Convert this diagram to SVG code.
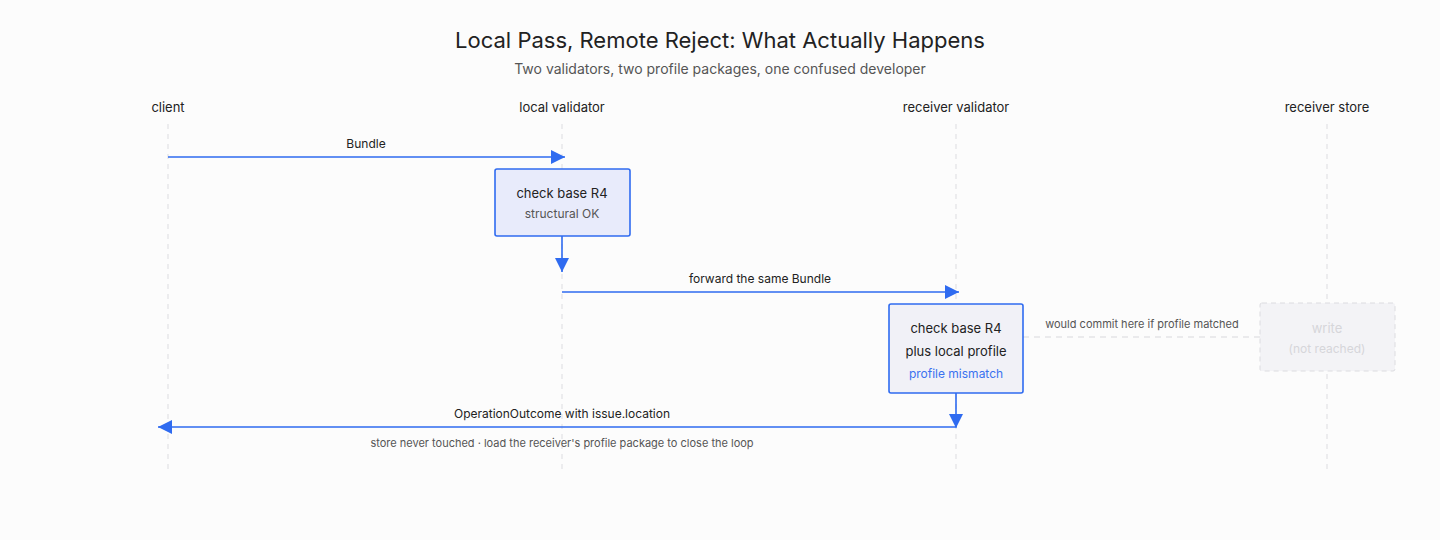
<svg xmlns="http://www.w3.org/2000/svg" width="1440" height="540" viewBox="0 0 1440 540">
<style>
text{font-family:Inter,"Liberation Sans",sans-serif;text-anchor:middle}
.h{font-size:13px;fill:#222}
.life{stroke:#dcdce0;stroke-width:1;stroke-dasharray:5 5}
.msg{stroke:#2f6bf0;stroke-width:1.6;fill:none}
.lbl{font-size:12px;fill:#222}
.box{fill:#e8ebfb;stroke:#2f6bf0;stroke-width:1.6}
.t1{font-size:13px;fill:#222}
.t2{font-size:12px;fill:#555}
</style>
<defs><marker id="b" viewBox="0 0 10 10" refX="10" refY="5" markerWidth="14" markerHeight="14" markerUnits="userSpaceOnUse" orient="auto"><path d="M0,0L10,5L0,10z" fill="#2f6bf0"/></marker></defs>
<rect width="1440" height="540" fill="#fcfcfc"/>
<text x="720" y="48" font-size="22" fill="#222">Local Pass, Remote Reject: What Actually Happens</text>
<text x="720" y="74" font-size="14" fill="#555">Two validators, two profile packages, one confused developer</text>
<g id="lifelines">
<text class="h" x="168" y="112">client</text><line class="life" x1="168" y1="124" x2="168" y2="470"/>
<text class="h" x="562" y="112">local validator</text><line class="life" x1="562" y1="124" x2="562" y2="470"/>
<text class="h" x="956" y="112">receiver validator</text><line class="life" x1="956" y1="124" x2="956" y2="470"/>
<text class="h" x="1327" y="112">receiver store</text><line class="life" x1="1327" y1="124" x2="1327" y2="470"/>
</g>
<g id="connectors">
<line class="msg" x1="168" y1="157" x2="565" y2="157" marker-end="url(#b)"/>
<text class="lbl" x="366" y="148">Bundle</text>
<line class="msg" x1="562" y1="236" x2="562" y2="272" marker-end="url(#b)"/>
<line class="msg" x1="562" y1="292" x2="959" y2="292" marker-end="url(#b)"/>
<text class="lbl" x="760" y="283">forward the same Bundle</text>
<polyline class="msg" points="956,393 956,427 158,427" marker-end="url(#b)"/>
<path d="M949,414L963,414L956,428z" fill="#2f6bf0"/>
<text class="lbl" x="562" y="418">OperationOutcome with issue.location</text>
<text x="562" y="447" font-size="11" fill="#555">store never touched · load the receiver's profile package to close the loop</text>
<line x1="1023" y1="337" x2="1260" y2="337" stroke="#d8d8dc" stroke-width="1.2" stroke-dasharray="6 5"/>
<text x="1142" y="328" font-size="11" fill="#555">would commit here if profile matched</text>
</g>
<g id="n1"><rect class="box" x="495" y="169" width="135" height="67" rx="2"/>
<text class="t1" x="562" y="198">check base R4</text><text class="t2" x="562" y="218">structural OK</text></g>
<g id="n2"><rect class="box" x="889" y="304" width="134" height="89" rx="2" style="fill:#f1f1f7"/>
<text class="t1" x="956" y="333">check base R4</text><text class="t1" x="956" y="356">plus local profile</text><text x="956" y="378" font-size="12" fill="#3a72f0">profile mismatch</text></g>
<g id="n3"><rect x="1260" y="303" width="135" height="68" rx="2" fill="#f3f3f6" stroke="#dcdce0" stroke-dasharray="5 4"/>
<text x="1327" y="333" font-size="13" fill="#d6d6da">write</text><text x="1327" y="353" font-size="12" fill="#d6d6da">(not reached)</text></g>
</svg>
